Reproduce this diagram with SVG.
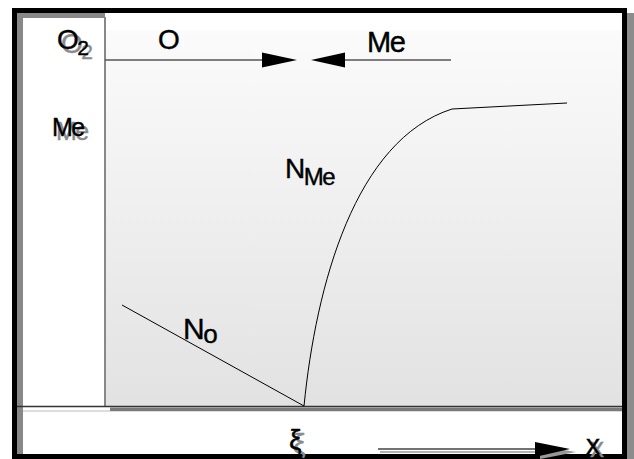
<svg xmlns="http://www.w3.org/2000/svg" width="634" height="459" viewBox="0 0 634 459">
<style>
text{font-family:"Liberation Sans",Arial,sans-serif;}
.lab{fill:#000;stroke:#000;stroke-width:0.4;letter-spacing:-1.5px;}
.sh{fill:#8a8a8a;stroke:#8a8a8a;stroke-width:0.4;letter-spacing:-1.5px;}
.curve{fill:none;stroke:#000;stroke-width:1;}
.arr{stroke:#555;stroke-width:1.3;fill:none;}
</style>
<defs>
<linearGradient id="bg" x1="0" y1="30" x2="0" y2="406" gradientUnits="userSpaceOnUse">
<stop offset="0" stop-color="#fbfbfb"/>
<stop offset="1" stop-color="#e2e2e2"/>
</linearGradient>
</defs>
<rect x="0" y="0" width="634" height="459" fill="#fff"/>
<rect x="627" y="13" width="7" height="446" fill="#8c8c8c"/>
<rect x="105" y="30" width="518" height="377" fill="url(#bg)"/>
<g id="left-column">
<rect x="17" y="13" width="6" height="442" fill="#888"/>
<rect x="17" y="13" width="88" height="5" fill="#888"/>
<rect x="23" y="18" width="82" height="389" fill="#fff"/>
<line x1="105" y1="17" x2="105" y2="407" stroke="#888" stroke-width="2"/>
</g>
<g id="baseline">
<line x1="17" y1="406.5" x2="623" y2="406.5" stroke="#333" stroke-width="1.5"/>
<rect x="110" y="407.5" width="513" height="3.5" fill="#7a7a7a"/>
<line x1="23" y1="411" x2="110" y2="411" stroke="#bbb" stroke-width="1.2"/>
<line x1="110" y1="411.5" x2="623" y2="411.5" stroke="#ddd" stroke-width="1"/>
</g>
<rect x="14.5" y="10.5" width="610" height="446" fill="none" stroke="#000" stroke-width="5"/>
<g id="connectors">
<line class="arr" x1="105" y1="60" x2="264" y2="60"/>
<polygon points="262,52.5 297,60 262,67.5" fill="#000"/>
<line class="arr" x1="343" y1="60" x2="451" y2="60"/>
<polygon points="345,52.5 311,60 345,67.5" fill="#000"/>
<path class="curve" d="M304,406 C316,285 355,140 452,109 L567,103"/>
<line class="curve" x1="122" y1="305" x2="304" y2="406"/>
<line x1="380" y1="452" x2="545" y2="452" stroke="#999" stroke-width="1.5"/>
<polygon points="540,446 576,452 540,459" fill="#999"/>
<line x1="378" y1="449" x2="537" y2="449" stroke="#444" stroke-width="1.3"/>
<polygon points="535,442 570,449 535,457" fill="#000"/>
</g>
<g id="label-O2">
<text class="sh" x="61" y="53" font-size="28">O<tspan font-size="21" dy="6">2</tspan></text>
<text class="lab" x="57" y="49" font-size="28">O<tspan font-size="21" dy="6">2</tspan></text>
</g>
<g id="label-O"><text class="lab" x="158" y="49" font-size="28">O</text></g>
<g id="label-Me-top"><text class="lab" x="367" y="52" font-size="29">Me</text></g>
<g id="label-Me-left">
<text class="sh" x="56" y="140" font-size="25">Me</text>
<text class="lab" x="52" y="136" font-size="25">Me</text>
</g>
<g id="label-NMe"><text class="lab" x="285" y="178" font-size="28">N<tspan font-size="24" dy="7">Me</tspan></text></g>
<g id="label-No"><text class="lab" x="183" y="339" font-size="30">N<tspan font-size="26" dy="4">o</tspan></text></g>
<g id="label-xi">
<text class="sh" x="293" y="453" font-size="28">ξ</text>
<text class="lab" x="289" y="449" font-size="28">ξ</text>
</g>
<g id="label-x">
<text class="sh" x="590" y="457" font-size="28">x</text>
<text class="lab" x="586" y="454" font-size="28">x</text>
</g>
</svg>
